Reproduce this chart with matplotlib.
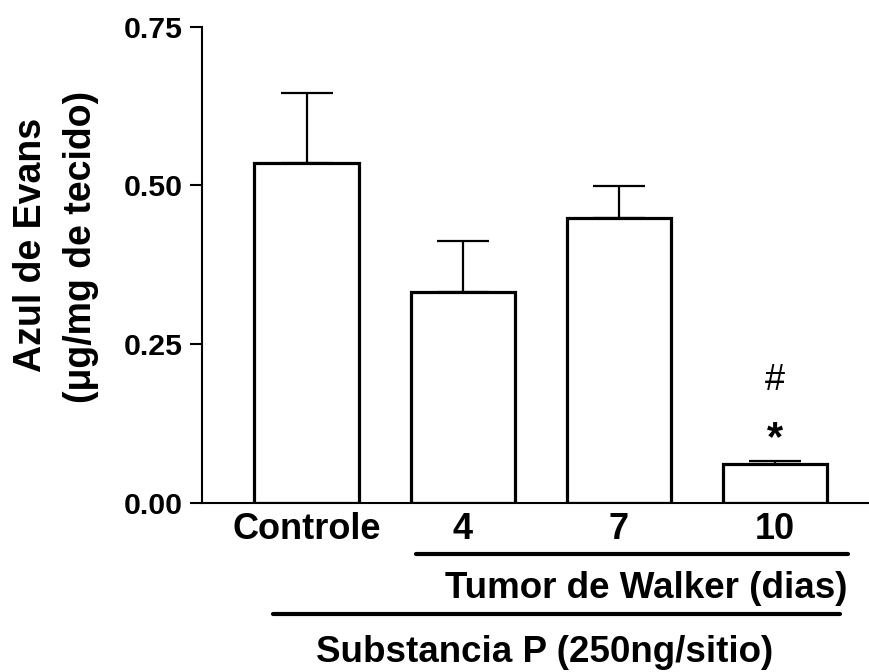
import numpy as np
import matplotlib.pyplot as plt

plt.rcParams['font.family'] = ['Liberation Sans', 'DejaVu Sans']
plt.rcParams['font.weight'] = 'bold'

# Evans blue extravasation, mean + SEM
grupos = ['Controle', '4', '7', '10']
media = [0.535, 0.332, 0.448, 0.061]
epm = [0.110, 0.080, 0.051, 0.004]
marcas = ['', '', '', '*']
marcas2 = ['', '', '', '#']

W, H = 869, 672
fig = plt.figure(figsize=(W / 100, H / 100), dpi=100)
ax = fig.add_axes([201.7 / W, (H - 502.7) / H, (W - 201.7) / W, 476.1 / H])

x = np.arange(len(grupos))
ax.bar(x, media, width=0.666, color='white', edgecolor='black', linewidth=2.3, zorder=2)
ax.errorbar(x, media, yerr=[np.zeros(len(epm)), epm], fmt='none', ecolor='black',
            elinewidth=1.6, capsize=19, capthick=1.6, zorder=1)

for xi, m, e, s1, s2 in zip(x, media, epm, marcas, marcas2):
    if s1:
        ax.text(xi, m + e + 0.035, s1, ha='center', va='center', fontsize=30, fontweight='bold')
    if s2:
        ax.text(xi, m + e + 0.127, s2, ha='center', va='center', fontsize=26, fontweight='normal')

ax.set_xlim(-0.671, 3.601)
ax.set_ylim(0, 0.75)
ax.set_yticks([0, 0.25, 0.5, 0.75])
ax.set_yticklabels(['0.00', '0.25', '0.50', '0.75'], fontsize=21.8, fontweight='bold')
ax.set_xticks(x)
ax.set_xticklabels(grupos, fontsize=26, fontweight='bold')
ax.tick_params(axis='y', length=9, width=1.5, pad=5)
ax.tick_params(axis='x', length=0, pad=7)
for lado in ['top', 'right']:
    ax.spines[lado].set_visible(False)
ax.spines['left'].set_linewidth(1.5)
ax.spines['bottom'].set_linewidth(1.5)

# y label in two lines
fig.text(31 / W, 1 - 245 / H, 'Azul de Evans', rotation=90, ha='center', va='center',
         fontsize=27, fontweight='bold')
fig.text(81 / W, 1 - 247 / H, '(\u03bcg/mg de tecido)', rotation=90, ha='center', va='center',
         fontsize=27, fontweight='bold')

# group brackets below the axis
fig.add_artist(plt.Line2D([416 / W, 848 / W], [1 - 554 / H, 1 - 554 / H], color='black',
                          linewidth=3, solid_capstyle='round'))
fig.text(646 / W, 1 - 598 / H, 'Tumor de Walker (dias)', ha='center', va='baseline',
         fontsize=26.5, fontweight='bold')
fig.add_artist(plt.Line2D([273 / W, 840 / W], [1 - 613.5 / H, 1 - 613.5 / H], color='black',
                          linewidth=3, solid_capstyle='round'))
fig.text(544.5 / W, 1 - 662 / H, 'Substancia P (250ng/sitio)', ha='center', va='baseline',
         fontsize=26.5, fontweight='bold')

fig.savefig('out.png', dpi=100)
